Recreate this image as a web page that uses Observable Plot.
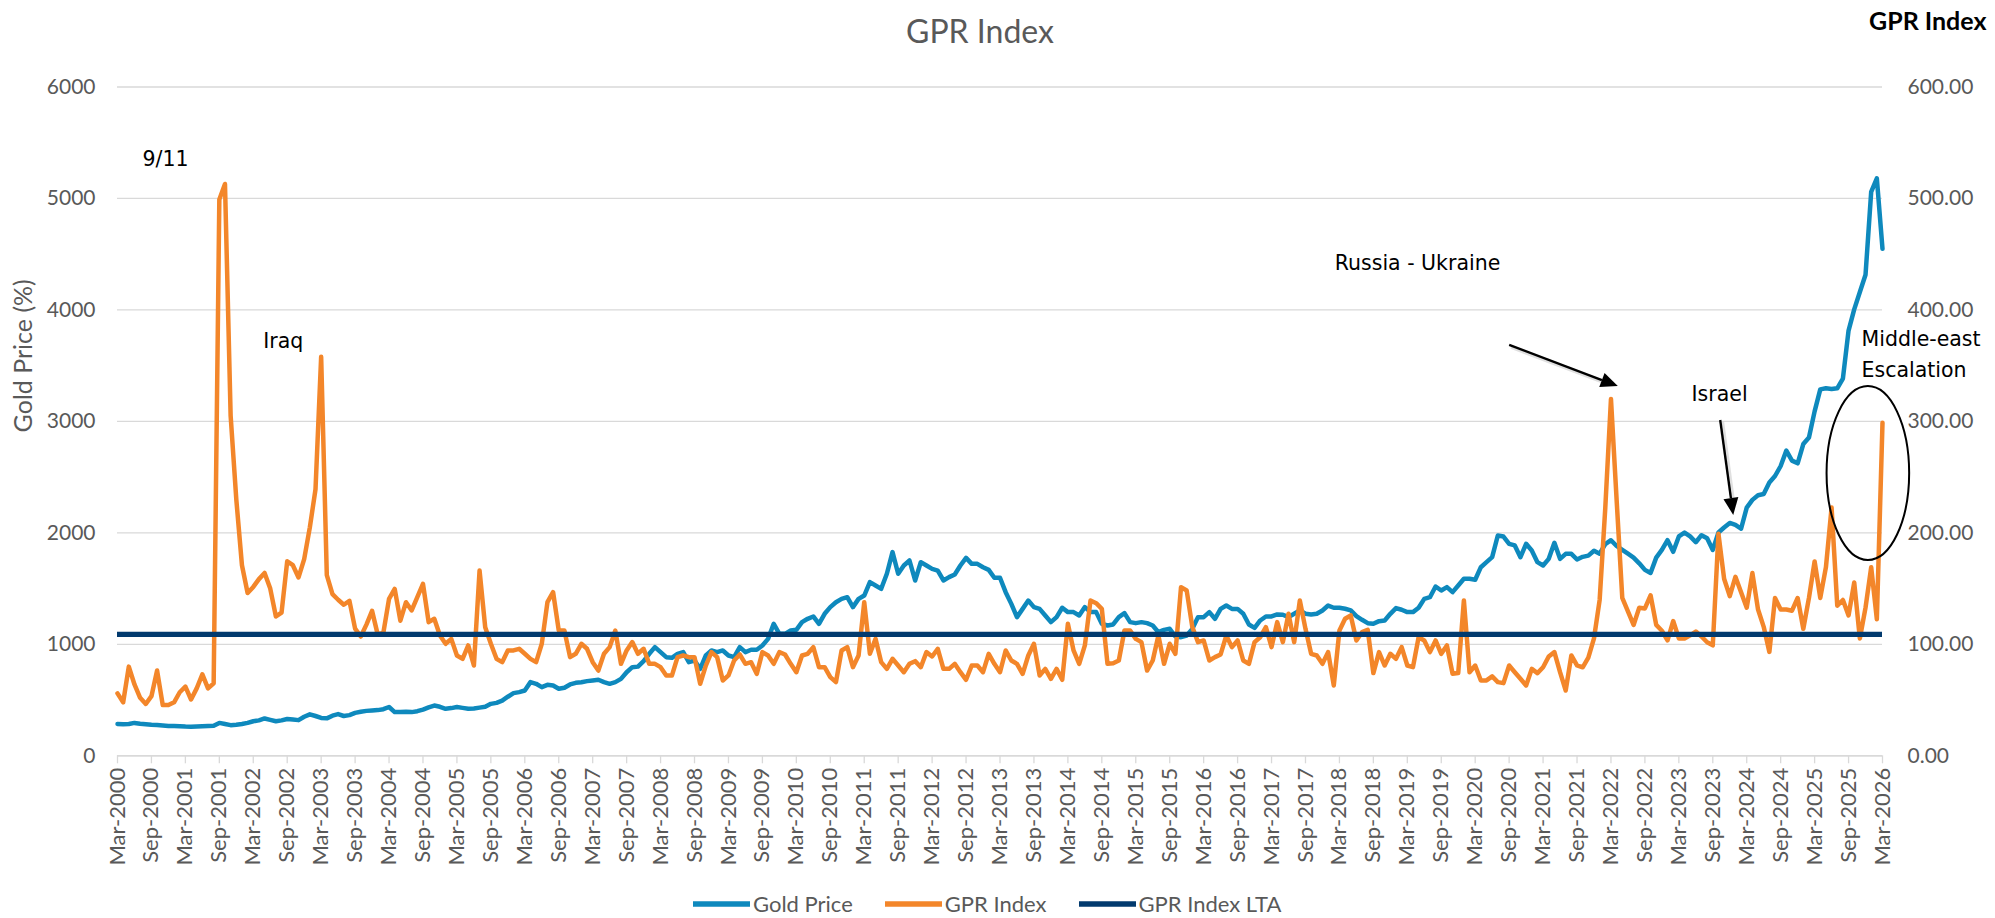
<!DOCTYPE html>
<html>
<head>
<meta charset="utf-8">
<script src="https://cdn.jsdelivr.net/npm/d3@7"></script>
<script src="https://cdn.jsdelivr.net/npm/@observablehq/plot@0.6"></script>
<style>
  html, body { margin: 0; padding: 0; background: #fff; }
  #page { width: 1995px; height: 918px; overflow: hidden; font-family: Lato, sans-serif; color: #595959; position: relative; }
  #titlebar { position: relative; height: 60px; width: 1995px; }
  #title { position: absolute; left: 0; width: 1960px; top: 0; height: 62px; line-height: 62px; text-align: center; font-size: 32px; color: #595959; }
  #rtitle { position: absolute; left: 1869px; top: 7px; line-height: 26px; font-size: 25px; font-weight: 700; color: #000; white-space: nowrap; }
  #chart { height: 830px; }
  #chart svg { display: block; }
  #legend { height: 28px; display: flex; align-items: center; padding-left: 693px; font-size: 22px; color: #595959; line-height: 28px; }
  #legend .item { display: flex; align-items: center; margin-right: 32px; white-space: nowrap; }
  #legend svg { display: block; margin-right: 3px; }
</style>
</head>
<body>
<div id="page">
  <div id="titlebar"><div id="title">GPR Index</div><div id="rtitle">GPR Index</div></div>
  <div id="chart"></div>
  <div id="legend"></div>
</div>
<script>
// ---- Data: monthly, Mar-2000 .. Mar-2026 (313 months) ----
const goldPrice = [
  285,283,285,295,288,283,278,276,272,268,267,266,
  262,260,262,265,267,270,295,285,275,278,285,295,
  310,318,335,322,310,318,330,325,320,350,372,357,
  340,336,360,374,357,365,385,395,403,407,410,418,
  438,392,392,395,392,400,415,435,451,440,422,428,
  437,430,422,425,432,440,466,475,495,530,562,571,
  586,661,646,616,637,631,601,610,640,655,660,670,
  676,682,661,646,661,690,750,795,800,849,915,975,
  930,885,879,915,930,840,855,780,900,945,930,945,
  900,885,975,930,951,951,990,1049,1184,1094,1094,1124,
  1130,1199,1229,1250,1184,1274,1334,1378,1408,1423,1334,1408,
  1438,1558,1528,1498,1633,1827,1633,1707,1752,1573,1737,1707,
  1677,1662,1573,1603,1627,1707,1776,1722,1722,1692,1668,1597,
  1597,1468,1363,1244,1318,1393,1334,1318,1259,1199,1244,1328,
  1289,1289,1259,1334,1289,1289,1184,1169,1178,1244,1280,1199,
  1190,1199,1190,1169,1109,1130,1139,1070,1064,1079,1139,1244,
  1244,1289,1229,1318,1348,1318,1318,1274,1178,1148,1214,1250,
  1250,1268,1265,1244,1274,1304,1274,1268,1274,1304,1348,1328,
  1328,1319,1304,1253,1220,1190,1184,1208,1214,1274,1325,1310,
  1289,1289,1328,1408,1423,1519,1483,1513,1468,1528,1588,1588,
  1579,1692,1737,1782,1976,1967,1902,1887,1782,1902,1842,1737,
  1707,1767,1911,1767,1812,1812,1761,1785,1796,1840,1813,1899,
  1934,1882,1847,1813,1778,1727,1668,1640,1778,1847,1934,1830,
  1968,2003,1968,1916,1979,1951,1847,2003,2048,2089,2072,2037,
  2227,2296,2338,2348,2452,2510,2600,2738,2648,2624,2797,2856,
  3090,3287,3297,3290,3297,3384,3815,4005,4161,4316,5059,5180,
  4548
];
const gprIndex = [
  56.0,48.0,80.0,64.0,52.0,46.5,53.5,76.5,45.5,45.5,48.0,57.0,
  62.0,50.5,60.5,73.0,60.5,65.0,499.0,513.0,305.0,230.0,171.0,146.0,
  151.5,158.5,164.0,150.0,125.0,128.5,174.5,171.0,160.0,176.5,205.0,239.0,
  358.0,162.0,145.0,140.0,135.5,139.0,114.1,107.0,117.7,130.0,108.7,110.5,
  140.8,149.7,121.2,137.8,130.4,142.3,154.3,119.9,122.9,107.9,100.5,104.9,
  90.0,87.0,99.0,81.0,166.2,115.4,100.5,87.0,84.0,94.5,94.5,96.0,
  91.5,87.0,84.0,100.5,137.8,146.8,112.4,112.4,88.5,91.5,100.5,96.0,
  84.0,76.5,91.5,97.5,112.4,82.5,94.5,102.0,91.5,96.0,82.5,82.5,
  79.5,72.0,72.0,88.5,90.0,88.5,88.5,64.6,81.0,93.0,88.5,67.6,
  72.1,85.5,90.9,82.5,84.0,73.5,93.0,90.0,82.5,93.0,90.9,82.5,
  75.0,90.0,91.5,97.5,79.5,79.5,70.6,66.1,94.5,97.5,79.5,90.0,
  137.8,91.5,104.9,84.0,78.0,87.0,81.0,75.0,82.5,84.9,79.5,93.0,
  89.1,96.0,78.0,78.0,82.5,75.0,68.2,81.0,81.0,75.0,91.5,82.5,
  75.0,94.5,85.5,82.5,73.5,90.0,100.5,72.1,78.0,69.1,78.0,68.2,
  118.4,94.5,82.5,99.0,139.3,136.9,131.9,82.5,83.1,85.5,112.4,112.4,
  104.9,102.0,76.5,85.5,107.9,82.5,100.5,91.5,151.3,148.3,115.4,102.0,
  103.5,85.5,88.5,90.9,107.9,97.5,103.5,85.5,82.5,102.0,106.4,115.4,
  97.5,119.9,102.0,127.4,102.0,139.3,113.9,91.5,90.0,82.5,93.0,63.1,
  112.4,122.9,125.9,103.5,110.9,113.0,74.2,93.0,81.0,91.5,87.0,97.5,
  81.0,79.5,106.4,103.5,93.0,103.5,91.5,99.0,73.6,74.2,139.3,75.0,
  81.0,67.6,67.6,71.2,66.1,65.2,81.0,75.0,69.1,63.1,78.0,74.2,
  79.5,89.1,93.0,75.0,58.6,90.0,81.1,79.4,88.0,105.3,139.8,222.7,
  320.1,229.6,141.6,129.5,117.4,132.9,132.2,144.0,117.4,112.2,103.6,120.9,
  105.3,105.3,108.1,111.5,107.0,101.9,99.1,199.2,158.8,143.3,160.6,146.8,
  132.9,164.0,131.2,115.7,93.2,141.6,131.2,131.2,130.2,141.6,114.0,141.6,
  174.4,141.6,169.2,222.7,134.7,139.8,126.0,155.4,105.3,132.9,169.2,122.6,
  298.7
];
const gprLTA = 109;
const tickLabels = [
  "Mar-2000","Sep-2000","Mar-2001","Sep-2001","Mar-2002","Sep-2002","Mar-2003","Sep-2003",
  "Mar-2004","Sep-2004","Mar-2005","Sep-2005","Mar-2006","Sep-2006","Mar-2007","Sep-2007",
  "Mar-2008","Sep-2008","Mar-2009","Sep-2009","Mar-2010","Sep-2010","Mar-2011","Sep-2011",
  "Mar-2012","Sep-2012","Mar-2013","Sep-2013","Mar-2014","Sep-2014","Mar-2015","Sep-2015",
  "Mar-2016","Sep-2016","Mar-2017","Sep-2017","Mar-2018","Sep-2018","Mar-2019","Sep-2019",
  "Mar-2020","Sep-2020","Mar-2021","Sep-2021","Mar-2022","Sep-2022","Mar-2023","Sep-2023",
  "Mar-2024","Sep-2024","Mar-2025","Sep-2025","Mar-2026"
];
const leftTicks = [0, 1000, 2000, 3000, 4000, 5000, 6000];
const seriesNames = ["Gold Price", "GPR Index", "GPR Index LTA"];
const seriesColors = ["#0E89BD", "#F3862A", "#023A6E"];

// Annotations (data coordinates: month index, left-axis value)
const noteMiddle = [
  {text: "9/11", k: 8.5, v: 5349},
  {text: "Iraq", k: 29.3, v: 3717},
  {text: "Russia - Ukraine", k: 229.8, v: 4416},
  {text: "Israel", k: 283.2, v: 3242}
];
const noteStart = [
  {text: "Middle-east", k: 308.3, v: 3735},
  {text: "Escalation", k: 308.3, v: 3457}
];
const arrows = [
  {k1: 246.1, v1: 3681, k2: 265.3, v2: 3313},
  {k1: 283.4, v1: 3008, k2: 285.7, v2: 2156}
];
const ellipseNote = {k: 309.5, v: 2532, dk: 7.3, dv: 780};

// ---- Build table ----
const rows = goldPrice.map((g, i) => ({k: i, gold: g, gpr: gprIndex[i]}));
const xTicks = tickLabels.map((_, i) => i * 6);

function annotationShapes(index, scales) {
  const x = scales.x, y = scales.y;
  const g = d3.create("svg:g");
  for (const a of arrows) {
    const x1 = x(a.k1), y1 = y(a.v1), x2 = x(a.k2), y2 = y(a.v2);
    const ang = Math.atan2(y2 - y1, x2 - x1);
    const L = 17, W = 7.5;
    const bx = x2 - L * Math.cos(ang), by = y2 - L * Math.sin(ang);
    g.append("line").attr("x1", x1 + 2).attr("y1", y1 + 2).attr("x2", bx + 2).attr("y2", by + 2)
      .attr("stroke", "#000").attr("stroke-opacity", 0.12).attr("stroke-width", 4);
    g.append("line").attr("x1", x1).attr("y1", y1).attr("x2", bx).attr("y2", by)
      .attr("stroke", "#000").attr("stroke-width", 2.4);
    g.append("path")
      .attr("d", `M${x2},${y2}L${bx - W * Math.sin(ang)},${by + W * Math.cos(ang)}L${bx + W * Math.sin(ang)},${by - W * Math.cos(ang)}Z`)
      .attr("fill", "#000");
  }
  const e = ellipseNote;
  g.append("ellipse")
    .attr("cx", x(e.k)).attr("cy", y(e.v))
    .attr("rx", Math.abs(x(e.k + e.dk) - x(e.k)))
    .attr("ry", Math.abs(y(e.v + e.dv) - y(e.v)))
    .attr("fill", "none").attr("stroke", "#000").attr("stroke-width", 2);
  return g.node();
}

const chart = Plot.plot({
  width: 1995,
  height: 830,
  marginTop: 26.5,
  marginBottom: 134.7,
  marginLeft: 117,
  marginRight: 113,
  style: {fontFamily: "Lato, sans-serif", fontSize: "21px", color: "#595959", background: "#fff", overflow: "visible"},
  x: {type: "linear", domain: [0, goldPrice.length - 1]},
  y: {domain: [0, 6000]},
  marks: [
    Plot.gridY(leftTicks, {stroke: "#D9D9D9", strokeOpacity: 1, strokeWidth: 1.3}),
    Plot.axisY(leftTicks, {anchor: "left", tickSize: 0, tickPadding: 22, label: null, fontSize: 21, fill: "#595959",
      tickFormat: d => String(d)}),
    Plot.axisY(leftTicks, {anchor: "right", tickSize: 0, tickPadding: 25, label: null, fontSize: 21, fill: "#595959",
      tickFormat: d => (d / 10).toFixed(2)}),
    Plot.axisX(xTicks, {anchor: "bottom", tickSize: 8, tickPadding: 4, tickRotate: -90, label: null, fontSize: 22,
      stroke: "#D9D9D9", strokeWidth: 1.3, fill: "#595959", tickFormat: k => tickLabels[k / 6]}),
    Plot.ruleY([0], {stroke: "#D9D9D9", strokeWidth: 1.6}),
    Plot.text(["Gold Price (%)"], {frameAnchor: "left", dx: -94, dy: 11, rotate: -90, text: d => d, fontSize: 25, fill: "#595959"}),
    Plot.line(rows, {x: "k", y: "gold", stroke: seriesColors[0], strokeWidth: 4.5}),
    Plot.line(rows, {x: "k", y: d => d.gpr * 10, stroke: seriesColors[1], strokeWidth: 4.5}),
    Plot.ruleY([gprLTA * 10], {stroke: seriesColors[2], strokeWidth: 5.3}),
    Plot.text(noteMiddle, {x: "k", y: "v", text: "text", textAnchor: "middle", fontFamily: "DejaVu Sans, sans-serif", fontSize: 20.5, fill: "#000"}),
    Plot.text(noteStart, {x: "k", y: "v", text: "text", textAnchor: "start", fontFamily: "DejaVu Sans, sans-serif", fontSize: 20.5, fill: "#000"}),
    annotationShapes
  ]
});
document.getElementById("chart").appendChild(chart);

// ---- Legend ----
const legend = document.getElementById("legend");
seriesNames.forEach((name, i) => {
  const item = document.createElement("span");
  item.className = "item";
  item.innerHTML = `<svg width="57" height="12"><line x1="0" y1="6" x2="57" y2="6" stroke="${seriesColors[i]}" stroke-width="5.5"/></svg><span>${name}</span>`;
  legend.appendChild(item);
});
</script>
</body>
</html>
